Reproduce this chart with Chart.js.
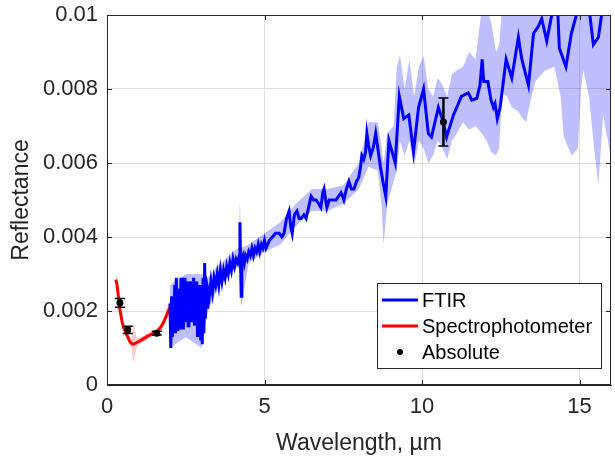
<!DOCTYPE html>
<html>
<head>
<meta charset="utf-8">
<script src="https://cdn.jsdelivr.net/npm/chart.js@4.4.1/dist/chart.umd.min.js"></script>
<style>
  body { margin: 0; background: #fff; }
  canvas { display: block; }
</style>
</head>
<body>
<canvas id="reflChart" width="615" height="460"></canvas>
<script>
// --- DATA ---
const xTicks = [0, 5, 10, 15];
const yTicks = [0, 0.002, 0.004, 0.006, 0.008, 0.01];
const yTickLabels = ['0', '0.002', '0.004', '0.006', '0.008', '0.01'];

// FTIR mean spectrum
const ftirX = [
  2.000, 2.025, 2.050, 2.075, 2.100, 2.125, 2.150, 2.175, 2.200, 2.225,
  2.250, 2.275, 2.300, 2.325, 2.350, 2.375, 2.400, 2.425, 2.450, 2.475,
  2.500, 2.525, 2.550, 2.575, 2.600, 2.625, 2.650, 2.675, 2.700, 2.725,
  2.750, 2.775, 2.800, 2.825, 2.850, 2.875, 2.900, 2.925, 2.950, 2.975,
  3.000, 3.025, 3.050, 3.075, 3.100, 3.125, 3.150, 3.175, 3.200,
  3.25, 3.30, 3.35, 3.40, 3.45, 3.50, 3.55, 3.60, 3.65, 3.70,
  3.75, 3.80, 3.85, 3.90, 3.95, 4.00, 4.05, 4.10, 4.15, 4.20,
  4.22, 4.24, 4.26, 4.28, 4.32, 4.36, 4.40, 4.45, 4.50, 4.55,
  4.60, 4.65, 4.70, 4.75, 4.80, 4.85, 4.90, 4.95, 5.00,
  5.05, 5.15, 5.25, 5.35, 5.47, 5.55, 5.62, 5.70, 5.78, 5.83,
  5.88, 5.95, 6.03, 6.10, 6.16, 6.25, 6.32, 6.40, 6.48, 6.56,
  6.64, 6.72, 6.79, 6.85, 6.89, 6.94, 6.98, 7.05, 7.11, 7.20,
  7.27, 7.35, 7.43, 7.48, 7.52, 7.60, 7.68, 7.76, 7.84, 7.92,
  7.99, 8.05, 8.09, 8.15, 8.21, 8.25, 8.30, 8.37, 8.45, 8.53,
  8.58, 8.63, 8.68, 8.72, 8.78, 8.85,
  8.95, 9.05, 9.15, 9.28, 9.42, 9.58, 9.73, 9.89, 10.05, 10.20,
  10.30, 10.52, 10.68, 10.78, 11.00, 11.25, 11.47, 11.58, 11.74, 11.84,
  11.91, 11.96, 12.09, 12.19, 12.27, 12.32, 12.39, 12.48, 12.67, 12.85,
  13.06, 13.17, 13.38, 13.54, 13.70, 13.80, 13.96, 14.12, 14.22, 14.30,
  14.36, 14.57, 14.74, 14.90, 15.10, 15.30, 15.44, 15.60, 15.70, 15.85,
  16.00
];
const ftirY = [
  0.0022, 0.0010, 0.0024, 0.0013, 0.0023, 0.0015, 0.0027, 0.0014, 0.0029, 0.0015,
  0.0024, 0.0017, 0.0026, 0.0015, 0.0029, 0.0017, 0.0025, 0.0015, 0.0029, 0.0017,
  0.0026, 0.0018, 0.0028, 0.0016, 0.0025, 0.0018, 0.0028, 0.0017, 0.0026, 0.0019,
  0.0029, 0.0016, 0.0027, 0.0017, 0.0028, 0.0013, 0.0025, 0.0015, 0.0027, 0.0012,
  0.0024, 0.0011, 0.0029, 0.0014, 0.0033, 0.0018, 0.0028, 0.0021, 0.0026,
  0.0024, 0.0028, 0.0025, 0.0029, 0.0027, 0.0030, 0.0027, 0.0031, 0.0028, 0.0031,
  0.0029, 0.0032, 0.0030, 0.0033, 0.0031, 0.0034, 0.0032, 0.0034, 0.0033, 0.0035,
  0.0044, 0.0033, 0.0024, 0.0034, 0.0035, 0.0033, 0.0035, 0.0034, 0.0036, 0.0035,
  0.0037, 0.0035, 0.0037, 0.0036, 0.0038, 0.0036, 0.0038, 0.0037, 0.0039,
  0.0037, 0.0039, 0.0040, 0.0041, 0.0041, 0.0040, 0.0041, 0.0045, 0.0047, 0.0043,
  0.0041, 0.0046, 0.0047, 0.0045, 0.0045, 0.0046, 0.0045, 0.0048, 0.0051, 0.0050,
  0.0050, 0.0049, 0.0048, 0.0052, 0.0053, 0.0050, 0.0048, 0.0050, 0.0050, 0.0050,
  0.0050, 0.0051, 0.0052, 0.0051, 0.0050, 0.0053, 0.0055, 0.0053, 0.0053, 0.0055,
  0.0056, 0.0059, 0.0062, 0.0061, 0.0063, 0.0068, 0.0065, 0.0062, 0.0064, 0.0068,
  0.0065, 0.0062, 0.0059, 0.0057, 0.0054, 0.0051,
  0.0066, 0.0063, 0.0060, 0.0078, 0.0072, 0.0073, 0.0063, 0.0075, 0.0080, 0.0068,
  0.0067, 0.0075, 0.0071, 0.0067, 0.0073, 0.0078, 0.0079, 0.0077, 0.00775, 0.0081,
  0.0088, 0.0082, 0.0082, 0.0077, 0.0075, 0.0076, 0.0072, 0.0075, 0.0088, 0.0083,
  0.0094, 0.0088, 0.0081, 0.0095, 0.0097, 0.0099, 0.0093, 0.0100, 0.0104, 0.0103,
  0.0091, 0.0086, 0.0095, 0.0100, 0.0105, 0.0102, 0.0092, 0.0094, 0.0100, 0.0104,
  0.0106
];

// FTIR uncertainty band
const bandX = [
  2.0, 2.5, 3.0, 3.2, 3.5, 4.0, 4.18, 4.22, 4.26, 4.5,
  5.0, 5.5, 6.0, 6.5, 7.0, 7.5, 8.0, 8.3, 8.6, 8.72,
  8.78, 8.9, 9.1, 9.2, 9.3, 9.45, 9.6, 9.75, 9.9, 10.05,
  10.2, 10.35, 10.5, 10.65, 10.8, 10.95, 11.1, 11.3, 11.5, 11.7,
  11.9, 12.05, 12.2, 12.35, 12.45, 12.55, 12.7, 12.85, 13.05, 13.2,
  13.3, 13.45, 13.6, 13.9, 14.2, 14.4, 14.5, 14.75, 14.95, 15.05,
  15.12, 15.3, 15.45, 15.6, 15.75, 15.9, 16.0
];
const bandLow = [
  0.0010, 0.0013, 0.0010, 0.0020, 0.0026, 0.0031, 0.0032, 0.0030, 0.0021, 0.0033,
  0.0036, 0.0038, 0.0043, 0.0047, 0.0047, 0.0049, 0.0053, 0.0059, 0.0058, 0.0048,
  0.0038, 0.0049, 0.0055, 0.0058, 0.0066, 0.0062, 0.0066, 0.0059, 0.0066, 0.0064,
  0.0060, 0.0062, 0.0066, 0.0064, 0.0061, 0.0066, 0.0068, 0.0071, 0.0069, 0.0070,
  0.0068, 0.0066, 0.0063, 0.0062, 0.0064, 0.0079, 0.0078, 0.0075, 0.0074, 0.0072,
  0.0071, 0.0077, 0.0082, 0.0085, 0.0086, 0.0078, 0.0067, 0.0062, 0.0064, 0.0080,
  0.0085, 0.0078, 0.0065, 0.0054, 0.0073, 0.0066, 0.0061
];
const bandHigh = [
  0.0027, 0.0030, 0.0030, 0.0029, 0.0032, 0.0036, 0.0037, 0.0050, 0.0037, 0.0038,
  0.0041, 0.0044, 0.0049, 0.0053, 0.0053, 0.0054, 0.0060, 0.0071, 0.0071, 0.0064,
  0.0060, 0.0068, 0.0070, 0.0086, 0.0089, 0.0080, 0.0088, 0.0078, 0.0086, 0.0089,
  0.0080, 0.0078, 0.0083, 0.0081, 0.0078, 0.0084, 0.0085, 0.0086, 0.0090, 0.0088,
  0.0102, 0.0102, 0.0098, 0.0090, 0.0092, 0.0103, 0.0105, 0.0105, 0.0105, 0.0105,
  0.0105, 0.0105, 0.0105, 0.0105, 0.0105, 0.0105, 0.0105, 0.0105, 0.0105, 0.0105,
  0.0105, 0.0105, 0.0105, 0.0105, 0.0105, 0.0105, 0.0105
];

// Spectrophotometer spectrum and its band
const specX = [0.28, 0.32, 0.36, 0.40, 0.44, 0.48, 0.54, 0.60, 0.66, 0.72, 0.78,
               0.84, 0.95, 1.10, 1.25, 1.40, 1.55, 1.70, 1.80, 1.90, 2.00];
const specY = [0.00285, 0.0027, 0.0024, 0.0021, 0.0019, 0.0017, 0.00153, 0.0014, 0.0013, 0.00118, 0.00112,
               0.0011, 0.00115, 0.00122, 0.0013, 0.00137, 0.00142, 0.00155, 0.0017, 0.0019, 0.0021];
const specLow = [0.0027, 0.0025, 0.0022, 0.0020, 0.0018, 0.0016, 0.00145, 0.0013, 0.0012, 0.0011, 0.0010,
                 0.0006, 0.00105, 0.00114, 0.00122, 0.0013, 0.00135, 0.00146, 0.0016, 0.0018, 0.0019];
const specHigh = [0.0030, 0.0029, 0.0026, 0.0023, 0.0020, 0.0018, 0.00162, 0.0015, 0.0014, 0.00128, 0.0012,
                  0.0017, 0.00125, 0.0013, 0.00138, 0.00145, 0.0015, 0.00165, 0.0018, 0.0021, 0.0023];

// Absolute measurements with error bars
const absX = [0.41, 0.66, 1.58, 10.68];
const absY = [0.00222, 0.00149, 0.0014, 0.00711];
const absErr = [0.00012, 0.0001, 0.00005, 0.00065];

const pts = (xs, ys) => xs.map((x, i) => ({ x: x, y: ys[i] }));

const TEXT = '#262626';
const FONT = 'Liberation Sans, Arial, Helvetica, sans-serif';

// --- MATLAB-like box, inner ticks, error bars and legend ---
const matlabExtras = {
  id: 'matlabExtras',
  afterDatasetsDraw(chart) {
    const { ctx, scales: { x, y } } = chart;
    ctx.save();
    ctx.strokeStyle = '#000';
    absX.forEach((v, i) => {
      const px = x.getPixelForValue(v);
      const top = y.getPixelForValue(absY[i] + absErr[i]);
      const bot = y.getPixelForValue(absY[i] - absErr[i]);
      ctx.lineWidth = 2.5;
      ctx.beginPath();
      ctx.moveTo(px, top); ctx.lineTo(px, bot);
      ctx.stroke();
      ctx.lineWidth = 1.5;
      ctx.beginPath();
      ctx.moveTo(px - 5, top); ctx.lineTo(px + 5, top);
      ctx.moveTo(px - 5, bot); ctx.lineTo(px + 5, bot);
      ctx.stroke();
    });
    ctx.restore();
  },
  afterDraw(chart) {
    const { ctx, chartArea: a, scales: { x, y } } = chart;
    ctx.save();
    // box
    ctx.strokeStyle = TEXT;
    ctx.lineWidth = 1;
    ctx.strokeRect(a.left + 0.5, a.top + 0.5, a.right - a.left - 1, a.bottom - a.top - 1);
    // inside tick marks
    ctx.beginPath();
    xTicks.forEach(v => {
      const px = Math.round(x.getPixelForValue(v)) + 0.5;
      ctx.moveTo(px, a.bottom); ctx.lineTo(px, a.bottom - 5);
      ctx.moveTo(px, a.top); ctx.lineTo(px, a.top + 5);
    });
    yTicks.forEach(v => {
      const py = Math.round(y.getPixelForValue(v)) + 0.5;
      ctx.moveTo(a.left, py); ctx.lineTo(a.left + 5, py);
      ctx.moveTo(a.right, py); ctx.lineTo(a.right - 5, py);
    });
    ctx.stroke();

    // legend
    const lx = 377, ly = 283, lw = 224, lh = 85;
    ctx.fillStyle = '#fff';
    ctx.fillRect(lx, ly, lw, lh);
    ctx.strokeStyle = TEXT;
    ctx.lineWidth = 1;
    ctx.strokeRect(lx + 0.5, ly + 0.5, lw, lh);
    const rows = [
      { label: 'FTIR', color: '#0000ff', kind: 'line' },
      { label: 'Spectrophotometer', color: '#ff0000', kind: 'line' },
      { label: 'Absolute', color: '#000', kind: 'dot' }
    ];
    ctx.font = '20px ' + FONT;
    ctx.textBaseline = 'middle';
    ctx.textAlign = 'left';
    rows.forEach((r, i) => {
      const cy = ly + 17 + i * 26;
      if (r.kind === 'line') {
        ctx.strokeStyle = r.color;
        ctx.lineWidth = 3;
        ctx.beginPath();
        ctx.moveTo(lx + 5, cy); ctx.lineTo(lx + 41, cy);
        ctx.stroke();
      } else {
        ctx.fillStyle = r.color;
        ctx.beginPath();
        ctx.arc(lx + 23, cy, 3, 0, Math.PI * 2);
        ctx.fill();
      }
      ctx.fillStyle = '#000';
      ctx.fillText(r.label, lx + 45, cy + 1);
    });
    ctx.restore();
  }
};

const ctx = document.getElementById('reflChart').getContext('2d');
new Chart(ctx, {
  type: 'line',
  data: {
    datasets: [
      { label: 'FTIR', data: pts(ftirX, ftirY), borderColor: '#0000ff', borderWidth: 3,
        pointRadius: 0, tension: 0, clip: 0, order: 1 },
      { label: 'Spectrophotometer', data: pts(specX, specY), borderColor: '#ff0000', borderWidth: 3,
        pointRadius: 0, tension: 0, clip: 0, order: 1 },
      { label: 'Absolute', data: pts(absX, absY), showLine: false, pointRadius: 3.5,
        pointBackgroundColor: '#000', pointBorderWidth: 0, order: 0 },
      { label: 'ftirLow', data: pts(bandX, bandLow), borderWidth: 0, pointRadius: 0, fill: false, order: 3 },
      { label: 'ftirHigh', data: pts(bandX, bandHigh), borderWidth: 0, pointRadius: 0,
        fill: '-1', backgroundColor: 'rgba(0,0,255,0.25)', order: 3 },
      { label: 'specLow', data: pts(specX, specLow), borderWidth: 0, pointRadius: 0, fill: false, order: 3 },
      { label: 'specHigh', data: pts(specX, specHigh), borderWidth: 0, pointRadius: 0,
        fill: '-1', backgroundColor: 'rgba(255,0,0,0.2)', order: 3 }
    ]
  },
  options: {
    responsive: false,
    animation: false,
    layout: { padding: { top: 15, right: 1, left: 0, bottom: 0 } },
    plugins: { legend: { display: false }, tooltip: { enabled: false } },
    scales: {
      x: {
        type: 'linear', min: 0, max: 16,
        afterFit: s => { s.height = 75; s.paddingLeft = 0; s.paddingRight = 0; },
        afterBuildTicks: s => { s.ticks = xTicks.map(v => ({ value: v })); },
        grid: { color: '#dfdfdf', drawTicks: false },
        border: { color: TEXT },
        ticks: { color: TEXT, font: { size: 22, family: FONT }, padding: 9, maxRotation: 0,
                 callback: v => String(v) },
        title: { display: true, text: 'Wavelength, µm', color: TEXT,
                 font: { size: 23, family: FONT }, padding: { top: 0, bottom: 3 } }
      },
      y: {
        type: 'linear', min: 0, max: 0.01,
        afterFit: s => { s.width = 107; s.paddingTop = 0; s.paddingBottom = 0; },
        afterBuildTicks: s => { s.ticks = yTicks.map(v => ({ value: v })); },
        grid: { color: '#dfdfdf', drawTicks: false },
        border: { color: TEXT },
        ticks: { color: TEXT, font: { size: 22, family: FONT }, padding: 9,
                 callback: (v, i) => yTickLabels[i] },
        title: { display: true, text: 'Reflectance', color: TEXT,
                 font: { size: 23, family: FONT }, padding: { top: 8, bottom: 0 } }
      }
    }
  },
  plugins: [matlabExtras]
});
</script>
</body>
</html>
